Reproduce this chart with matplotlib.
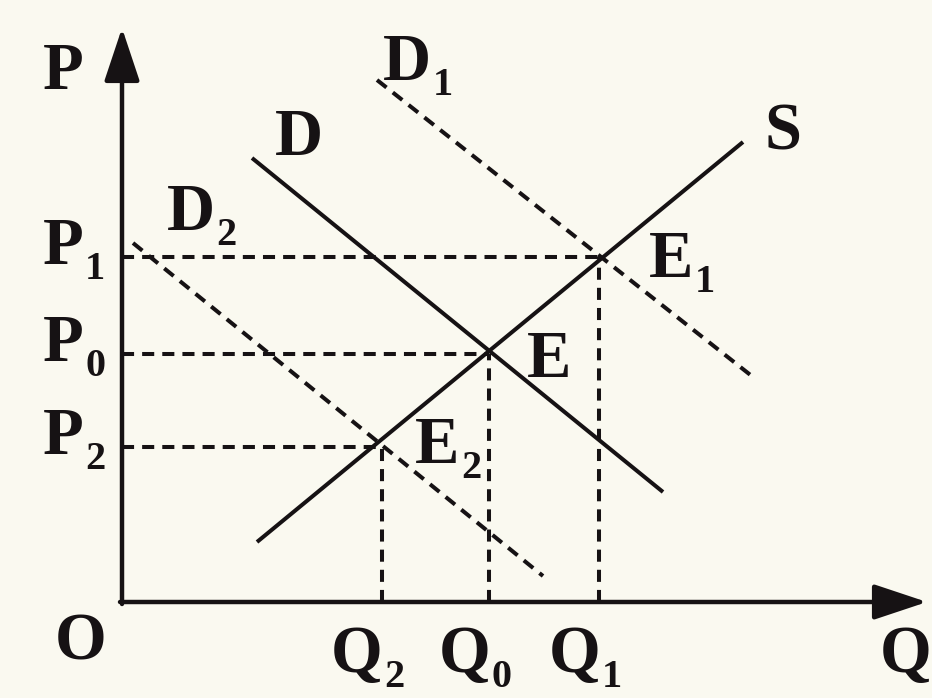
import matplotlib.pyplot as plt

# supply / demand diagram, axis units: 1 unit of Q or P = 100 px

# curve end points (Q, P)
supply_q = [1.35, 6.21]
supply_p = [0.60, 4.60]
demand_q = [1.30, 5.41]
demand_p = [4.44, 1.10]
demand1_q = [2.55, 6.31]
demand1_p = [5.22, 2.25]
demand2_q = [0.11, 4.21]
demand2_p = [3.59, 0.26]

# equilibria E, E1, E2
eq_subs = ['', '1', '2']
eq_q = [3.67, 4.77, 2.60]
eq_p = [2.48, 3.45, 1.55]
price_subs = ['0', '1', '2']
qty_subs = ['0', '1', '2']

ink = '#161214'
bg = '#faf9f0'
fs = 48
fs_sub = 29

fig = plt.figure(figsize=(9.32, 6.98), dpi=100, facecolor=bg)
ax = fig.add_axes([0, 0, 1, 1])
ax.set_facecolor(bg)
ax.set_xlim(-1.22, 8.10)
ax.set_ylim(-0.96, 6.02)
ax.axis('off')

# axes with arrows
arrow = dict(arrowstyle='-|>,head_length=3.3,head_width=1.1', color=ink,
             lw=3.2, shrinkA=0, shrinkB=0, mutation_scale=10)
ax.annotate('', xy=(0, 5.74), xytext=(0, -0.02), arrowprops=arrow)
ax.annotate('', xy=(8.05, 0), xytext=(-0.02, 0), arrowprops=arrow)

dash = (0, (3, 2))
lw = 2.9
ax.plot(supply_q, supply_p, color=ink, lw=lw, solid_capstyle='butt')
ax.plot(demand_q, demand_p, color=ink, lw=lw, solid_capstyle='butt')
ax.plot(demand1_q, demand1_p, color=ink, lw=lw, ls=dash)
ax.plot(demand2_q, demand2_p, color=ink, lw=lw, ls=dash)

for q, p in zip(eq_q, eq_p):
    ax.plot([0, q], [p, p], color=ink, lw=lw, ls=dash)
    ax.plot([q, q], [0, p], color=ink, lw=lw, ls=dash)

font = dict(family='Liberation Serif', weight='bold', color=ink, va='baseline')


def label(main, sub, q, p, ha='left'):
    t = ax.text(q, p, main, fontsize=fs, ha=ha, **font)
    if sub:
        ax.annotate(sub, xy=(1, p), xycoords=(t, 'data'), xytext=(1, -11),
                    textcoords='offset points', fontsize=fs_sub, ha='left', **font)


label('P', '', -0.79, 5.13)
label('O', '', -0.67, -0.58)
label('Q', '', 7.58, -0.70)
label('S', '', 6.42, 4.52)
label('D', '', 1.53, 4.47)
label('D', '1', 2.61, 5.22)
label('D', '2', 0.45, 3.72)

# price / quantity labels
for sub, p in zip(price_subs, eq_p):
    label('P', sub, -0.79, p - 0.07)
for sub, q in zip(qty_subs, eq_q):
    label('Q', sub, q + 0.01, -0.70, ha='right')

# equilibrium point labels
eq_off = [(0.38, -0.23), (0.50, -0.20), (0.33, -0.16)]
for sub, q, p, (dq, dp) in zip(eq_subs, eq_q, eq_p, eq_off):
    label('E', sub, q + dq, p + dp)

fig.savefig('out.png', dpi=100, facecolor=bg)
